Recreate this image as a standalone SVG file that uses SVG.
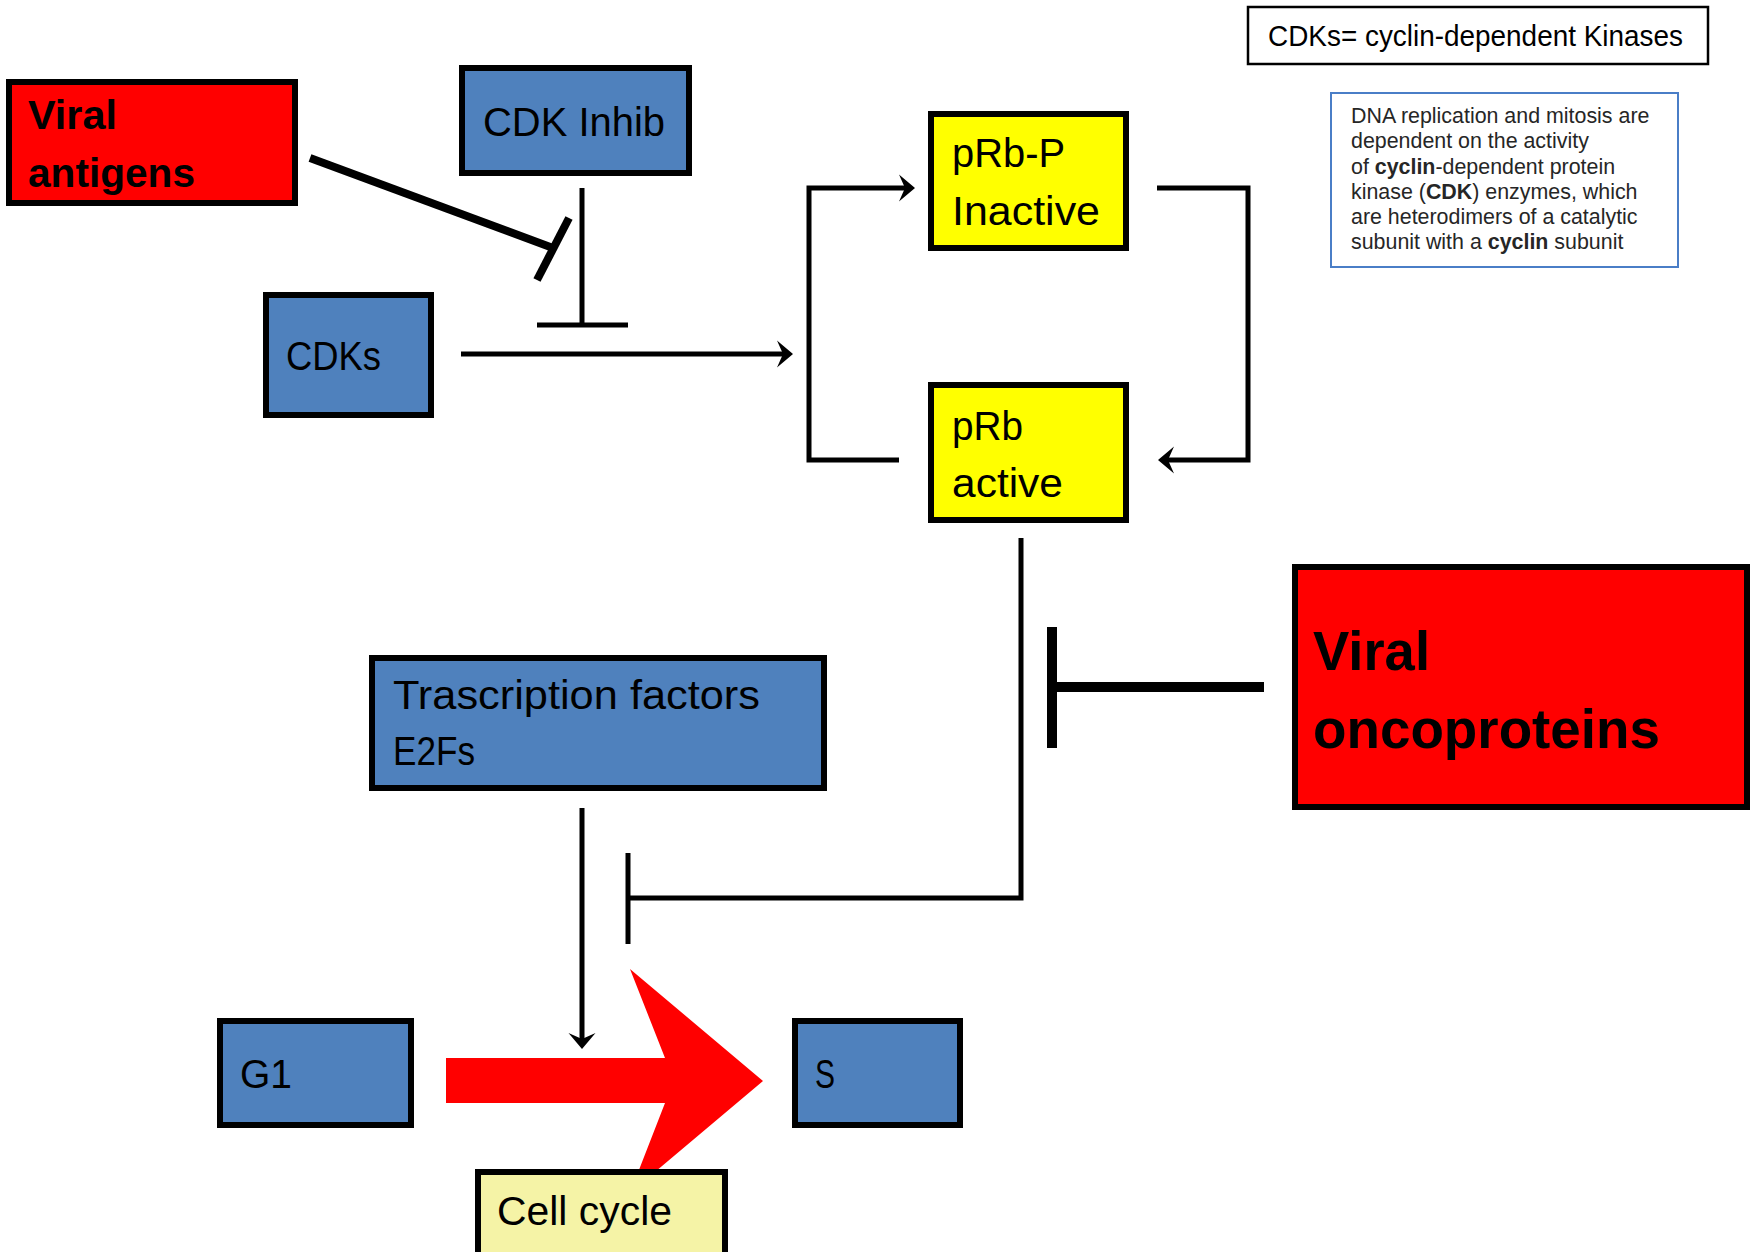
<svg xmlns="http://www.w3.org/2000/svg" width="1756" height="1252" viewBox="0 0 1756 1252">
<style>
.box{stroke:#000;stroke-width:6}
.blue{fill:#4F81BD}
.yellow{fill:#FFFF00}
.red{fill:#FF0000}
.pale{fill:#F5F3A6}
.lbl{font-family:"Liberation Sans",Arial,sans-serif;font-size:41px;fill:#000}
.bold{font-weight:bold}
.big{font-size:55px}
.ln{fill:none;stroke:#000;stroke-width:5}
.note{font-family:"Liberation Sans",Arial,sans-serif;font-size:21.4px;fill:#262626}
</style>
<defs>
<marker id="arr" markerUnits="userSpaceOnUse" viewBox="-22 -16 24 32" refX="-5" refY="0" markerWidth="24" markerHeight="32" orient="auto">
<path d="M0,0 L-16,-13.5 L-10,0 L-16,13.5 Z" fill="#000"/>
</marker>
</defs>
<g id="connectors">
<line class="ln" x1="310" y1="158" x2="553" y2="248" style="stroke-width:8"/>
<line class="ln" x1="569" y1="218" x2="537" y2="280" style="stroke-width:8"/>
<line class="ln" x1="582" y1="188" x2="582" y2="325"/>
<line class="ln" x1="537" y1="325" x2="628" y2="325"/>
<line class="ln" x1="461" y1="354" x2="788" y2="354" marker-end="url(#arr)"/>
<path class="ln" d="M899,460 H809 V188 H910" marker-end="url(#arr)"/>
<path class="ln" d="M1157,188 H1248 V460 H1163" marker-end="url(#arr)"/>
<path class="ln" d="M1021,538 V898 H628"/>
<line class="ln" x1="628" y1="853" x2="628" y2="944"/>
<line class="ln" x1="1264" y1="687" x2="1052" y2="687" style="stroke-width:10"/>
<line class="ln" x1="1052" y1="627" x2="1052" y2="748" style="stroke-width:10"/>
<line class="ln" x1="582" y1="808" x2="582" y2="1044" marker-end="url(#arr)"/>
<polygon points="446,1058 665,1058 630,969 763,1081 630,1193 665,1103 446,1103" fill="#FF0000"/>
</g>
<g id="viral-antigens">
<rect class="box red" x="9" y="82" width="286" height="121"/>
<text class="lbl bold" x="28" y="129" textLength="89" lengthAdjust="spacingAndGlyphs">Viral</text>
<text class="lbl bold" x="28" y="187" textLength="167" lengthAdjust="spacingAndGlyphs">antigens</text>
</g>
<g id="cdk-inhib">
<rect class="box blue" x="462" y="68" width="227" height="105"/>
<text class="lbl" x="483" y="136" textLength="182" lengthAdjust="spacingAndGlyphs">CDK Inhib</text>
</g>
<g id="cdks">
<rect class="box blue" x="266" y="295" width="165" height="120"/>
<text class="lbl" x="286" y="370" textLength="95" lengthAdjust="spacingAndGlyphs">CDKs</text>
</g>
<g id="prb-p">
<rect class="box yellow" x="931" y="114" width="195" height="134"/>
<text class="lbl" x="952" y="167" textLength="113" lengthAdjust="spacingAndGlyphs">pRb-P</text>
<text class="lbl" x="952" y="225" textLength="148" lengthAdjust="spacingAndGlyphs">Inactive</text>
</g>
<g id="prb">
<rect class="box yellow" x="931" y="385" width="195" height="135"/>
<text class="lbl" x="952" y="440" textLength="71" lengthAdjust="spacingAndGlyphs">pRb</text>
<text class="lbl" x="952" y="497" textLength="111" lengthAdjust="spacingAndGlyphs">active</text>
</g>
<g id="legend">
<rect x="1248" y="7" width="460" height="57" fill="#fff" stroke="#000" stroke-width="2.5"/>
<text class="lbl" x="1268" y="46" style="font-size:29px" textLength="415" lengthAdjust="spacingAndGlyphs">CDKs= cyclin-dependent Kinases</text>
</g>
<g id="note">
<rect x="1331" y="93" width="347" height="174" fill="#fff" stroke="#4A7EC7" stroke-width="2"/>
<text class="note" x="1351" y="123">DNA replication and mitosis are</text>
<text class="note" x="1351" y="148">dependent on the activity</text>
<text class="note" x="1351" y="174">of <tspan font-weight="bold">cyclin</tspan>-dependent protein</text>
<text class="note" x="1351" y="199">kinase (<tspan font-weight="bold">CDK</tspan>) enzymes, which</text>
<text class="note" x="1351" y="224">are heterodimers of a catalytic</text>
<text class="note" x="1351" y="249">subunit with a <tspan font-weight="bold">cyclin</tspan> subunit</text>
</g>
<g id="e2fs">
<rect class="box blue" x="372" y="658" width="452" height="130"/>
<text class="lbl" x="393" y="709" textLength="367" lengthAdjust="spacingAndGlyphs">Trascription factors</text>
<text class="lbl" x="393" y="765" textLength="82" lengthAdjust="spacingAndGlyphs">E2Fs</text>
</g>
<g id="viral-oncoproteins">
<rect class="box red" x="1295" y="567" width="452" height="240"/>
<text class="lbl bold big" x="1313" y="670" textLength="117" lengthAdjust="spacingAndGlyphs">Viral</text>
<text class="lbl bold big" x="1313" y="748" textLength="347" lengthAdjust="spacingAndGlyphs">oncoproteins</text>
</g>
<g id="g1">
<rect class="box blue" x="220" y="1021" width="191" height="104"/>
<text class="lbl" x="240" y="1088" textLength="52" lengthAdjust="spacingAndGlyphs">G1</text>
</g>
<g id="s">
<rect class="box blue" x="795" y="1021" width="165" height="104"/>
<text class="lbl" x="815" y="1088" textLength="20" lengthAdjust="spacingAndGlyphs">S</text>
</g>
<g id="cell-cycle">
<rect class="box pale" x="478" y="1172" width="247" height="90"/>
<text class="lbl" x="497" y="1225" textLength="175" lengthAdjust="spacingAndGlyphs">Cell cycle</text>
</g>
</svg>
